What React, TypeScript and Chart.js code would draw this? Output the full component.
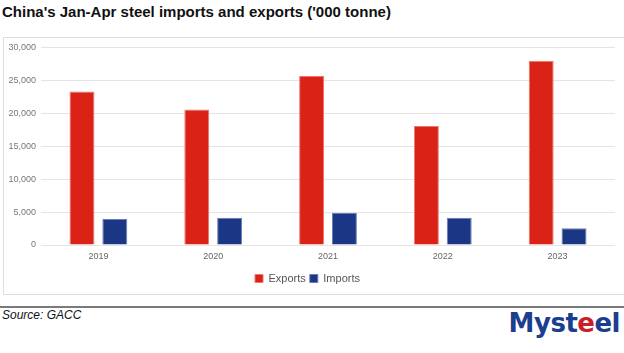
import React, { useEffect, useRef } from "react";
import { Chart, registerables } from "chart.js";

Chart.register(...registerables);

const years = ["2019", "2020", "2021", "2022", "2023"];
const exportsVals = [23300, 20560, 25650, 18070, 27980];
const importsVals = [3940, 4140, 4850, 4130, 2530];
const yTicksMax = 30000;
const yStep = 5000;

export default function App() {
  const ref = useRef<HTMLCanvasElement | null>(null);

  useEffect(() => {
    const canvas = ref.current;
    if (!canvas) return;
    const chart = new Chart(canvas, {
      type: "bar",
      data: {
        labels: years,
        datasets: [
          {
            label: "Exports",
            data: exportsVals,
            backgroundColor: "#da2316",
            borderColor: "#e9786f",
            borderWidth: 1,
            categoryPercentage: 0.572,
            barPercentage: 0.76,
          },
          {
            label: "Imports",
            data: importsVals,
            backgroundColor: "#1a3685",
            borderColor: "#6a7db5",
            borderWidth: 1,
            categoryPercentage: 0.572,
            barPercentage: 0.76,
          },
        ],
      },
      options: {
        animation: false,
        responsive: false,
        maintainAspectRatio: false,
        devicePixelRatio: 1,
        layout: { padding: { left: 0, right: 9, top: 10, bottom: 0 } },
        plugins: {
          title: { display: false },
          tooltip: { enabled: false },
          legend: {
            display: true,
            position: "bottom",
            labels: {
              boxWidth: 8,
              boxHeight: 8,
              padding: 4,
              color: "#555",
              font: { family: "'Liberation Sans', Arial, sans-serif", size: 11 },
            },
          },
        },
        scales: {
          x: {
            grid: { display: false, drawTicks: false },
            border: { display: false },
            ticks: {
              color: "#666",
              padding: 6,
              font: { family: "'Liberation Sans', Arial, sans-serif", size: 9 },
            },
            afterFit: (s: any) => {
              s.height = 24;
            },
          },
          y: {
            min: 0,
            max: yTicksMax,
            border: { display: false },
            grid: { color: "#e4e4e4", lineWidth: 1, drawTicks: false },
            ticks: {
              stepSize: yStep,
              color: "#777",
              padding: 5,
              font: { family: "'Liberation Sans', Arial, sans-serif", size: 9 },
            },
            afterFit: (s: any) => {
              s.width = 41;
            },
          },
        },
      },
    });
    return () => chart.destroy();
  }, []);

  return (
    <div
      style={{
        position: "fixed",
        left: 0,
        top: 0,
        width: 624,
        height: 353,
        background: "#fff",
        overflow: "hidden",
        fontFamily: "'Liberation Sans', Arial, sans-serif",
      }}
    >
      <div
        style={{
          position: "absolute",
          left: 2,
          top: 3,
          fontSize: 15,
          fontWeight: "bold",
          color: "#111",
          whiteSpace: "nowrap",
        }}
      >
        China's Jan-Apr steel imports and exports ('000 tonne)
      </div>
      <div
        style={{
          position: "absolute",
          left: 3,
          top: 37,
          width: 630,
          height: 256,
          border: "1px solid #dedede",
        }}
      />
      <canvas
        ref={ref}
        width={624}
        height={257}
        style={{ position: "absolute", left: 0, top: 37, width: 624, height: 257 }}
      />
      <div
        style={{
          position: "absolute",
          left: 0,
          top: 306,
          width: 624,
          height: 2,
          background: "#7a7a7a",
        }}
      />
      <div
        style={{
          position: "absolute",
          left: 2,
          top: 308,
          fontSize: 12,
          fontStyle: "italic",
          color: "#111",
        }}
      >
        Source: GACC
      </div>
      <div
        style={{
          position: "absolute",
          right: 4,
          top: 308,
          fontSize: 26,
          fontFamily: "'DejaVu Sans', sans-serif",
          fontWeight: "bold",
          color: "#1b3e8f",
          letterSpacing: -0.5,
          whiteSpace: "nowrap",
        }}
      >
        Myst<span style={{ color: "#c8202b" }}>e</span>el
      </div>
    </div>
  );
}
